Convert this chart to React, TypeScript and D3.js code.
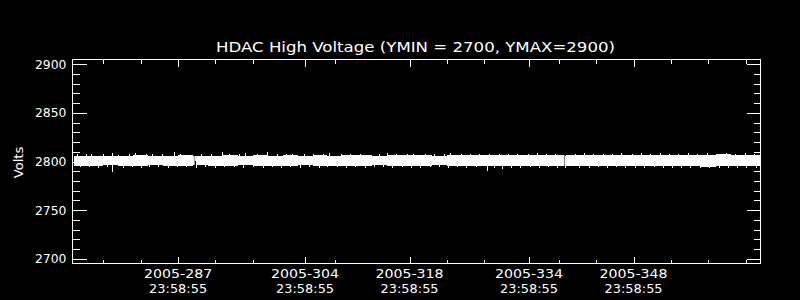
import React from "react";
import * as d3 from "d3";

// ---- data (x = days since 2005-01-01 00:00, y = volts) ----
const title = "HDAC High Voltage (YMIN = 2700, YMAX=2900)";
const yLabel = "Volts";
const xStart = 272.85;
const xEnd = 365.0;
const yMinView = 2695.3;
const yMaxView = 2904.8;

const yMajorTicks = [2700, 2750, 2800, 2850, 2900];
const yMinorTicks = [2710, 2720, 2730, 2740, 2760, 2770, 2780, 2790, 2810, 2820, 2830, 2840, 2860, 2870, 2880, 2890];

const xMajorDoy = [287, 304, 318, 334, 348];
const xMajorLabels = ["2005-287", "2005-304", "2005-318", "2005-334", "2005-348"];
const xMajorTime = "23:58:55";
const xMinorTicks = [277, 282, 292, 297, 308, 323, 328, 338, 343, 353, 358, 363];

const coreDays = [273, 275, 277, 279, 281, 283, 285, 287, 289, 291, 293, 295, 297, 299, 301, 303, 305, 307, 309, 311, 313, 315, 317, 319, 321, 323, 325, 327, 329, 331, 333, 335, 337, 339, 341, 343, 345, 347, 349, 351, 353, 355, 357, 359, 361, 363, 365];
const coreHigh = [2805.8, 2806.2, 2805.6, 2806.0, 2806.3, 2805.7, 2806.0, 2806.5, 2805.9, 2806.2, 2806.6, 2806.0, 2806.3, 2806.1, 2806.5, 2806.2, 2806.4, 2806.0, 2806.6, 2806.3, 2806.1, 2806.5, 2806.3, 2806.7, 2806.2, 2806.6, 2806.4, 2806.8, 2806.3, 2806.5, 2806.7, 2806.4, 2806.9, 2806.5, 2807.0, 2806.7, 2807.1, 2806.6, 2807.0, 2807.2, 2806.8, 2807.1, 2806.9, 2807.3, 2807.0, 2807.2, 2807.1];
const coreLow = [2795.9, 2795.5, 2796.1, 2795.7, 2795.3, 2796.0, 2795.6, 2795.8, 2796.2, 2795.5, 2795.7, 2796.0, 2795.4, 2795.8, 2795.6, 2796.1, 2795.5, 2795.9, 2795.3, 2795.7, 2796.0, 2795.6, 2795.4, 2795.8, 2796.1, 2795.5, 2795.7, 2795.3, 2795.9, 2795.6, 2795.4, 2795.8, 2795.5, 2795.2, 2795.6, 2795.3, 2795.1, 2795.5, 2795.2, 2795.0, 2795.4, 2795.1, 2794.9, 2795.3, 2795.0, 2795.2, 2795.1];

const gapDays = [289.3, 338.85];

const upHairDays = [273.4, 274.6, 275.3, 276.9, 278.1, 279.0, 280.4, 281.2, 282.7, 283.5, 284.8, 286.5, 287.3, 288.6, 289.25, 290.1, 291.4, 292.9, 293.8, 295.2, 296.0, 297.6, 298.95, 300.2, 301.5, 302.3, 303.9, 305.1, 306.4, 307.2, 308.8, 310.0, 311.3, 312.5, 313.9, 315.0, 316.2, 317.7, 318.5, 320.0, 321.3, 322.6, 323.4, 324.9, 326.1, 327.3, 328.7, 330.0, 331.2, 332.4, 333.8, 335.0, 336.3, 337.5, 338.85, 340.1, 341.4, 342.6, 343.9, 345.1, 346.3, 347.8, 349.0, 350.2, 351.6, 352.8, 354.0, 355.3, 356.5, 357.9, 359.1, 360.4, 361.6, 362.9, 364.1];
const upHairTop = [2807.9, 2807.3, 2808.2, 2807.6, 2808.5, 2807.1, 2807.8, 2808.3, 2807.5, 2808.0, 2807.4, 2809.8, 2807.7, 2807.2, 2806.2, 2808.1, 2807.6, 2809.6, 2807.9, 2807.3, 2808.4, 2807.5, 2809.6, 2807.8, 2807.4, 2808.2, 2807.6, 2808.0, 2807.3, 2808.5, 2807.7, 2807.5, 2808.1, 2807.2, 2807.9, 2808.3, 2807.6, 2807.8, 2808.2, 2807.4, 2808.0, 2807.6, 2808.4, 2807.7, 2807.3, 2808.1, 2807.8, 2807.5, 2808.2, 2807.9, 2807.6, 2808.3, 2807.7, 2808.0, 2806.0, 2808.1, 2808.5, 2807.8, 2808.2, 2807.9, 2808.4, 2808.1, 2808.3, 2807.8, 2808.5, 2808.0, 2808.2, 2808.6, 2807.9, 2808.3, 2808.1, 2808.5, 2808.0, 2808.3, 2808.2];

const downHairDays = [273.8, 275.0, 276.2, 277.5, 278.2, 279.6, 280.8, 282.0, 283.1, 284.3, 285.6, 286.9, 288.0, 289.35, 290.6, 291.9, 293.2, 294.5, 295.7, 297.0, 298.3, 299.6, 300.8, 302.0, 303.3, 304.5, 305.8, 307.0, 308.3, 309.5, 310.7, 312.0, 313.2, 314.5, 315.7, 317.0, 318.2, 319.4, 320.7, 321.9, 323.2, 324.4, 325.6, 326.9, 328.4, 329.3, 330.4, 331.6, 332.8, 334.1, 335.3, 336.6, 337.8, 338.85, 340.7, 342.0, 343.2, 344.5, 345.7, 346.9, 348.2, 349.4, 350.7, 351.9, 353.2, 354.4, 355.6, 356.9, 358.1, 359.4, 360.6, 361.9, 363.1, 364.4];
const downHairBottom = [2793.9, 2794.4, 2793.6, 2794.1, 2789.0, 2793.8, 2794.3, 2793.5, 2794.0, 2794.5, 2793.7, 2794.2, 2793.9, 2793.0, 2794.1, 2793.6, 2794.3, 2793.9, 2793.5, 2794.2, 2793.8, 2794.4, 2793.7, 2794.0, 2793.6, 2794.2, 2793.8, 2794.3, 2793.9, 2793.5, 2794.1, 2793.7, 2794.3, 2793.9, 2793.6, 2794.2, 2793.8, 2793.5, 2794.1, 2793.9, 2793.6, 2794.2, 2793.8, 2794.0, 2790.5, 2793.0, 2792.8, 2793.1, 2793.5, 2793.9, 2793.6, 2794.1, 2793.7, 2793.0, 2793.8, 2793.5, 2794.0, 2793.6, 2793.9, 2793.4, 2793.8, 2793.5, 2793.9, 2793.3, 2793.7, 2793.5, 2793.8, 2793.4, 2793.7, 2793.3, 2793.6, 2793.4, 2793.7, 2793.5];

const bandCenter = 2801;

// ---- layout ----
const W = 800;
const H = 300;
const L = 72.5;
const R = 760.5;
const T = 59.5;
const B = 263.5;
const FONT = "'DejaVu Sans', sans-serif";
const FW = 400;

export default function App() {
  const x = d3.scaleLinear().domain([xStart, xEnd]).range([L, R]);
  const y = d3.scaleLinear().domain([yMinView, yMaxView]).range([B, T]);
  const px = (v: number) => Math.round(x(v)) + 0.5;
  const py = (v: number) => Math.round(y(v)) + 0.5;

  const core = coreDays.map((d, i) => ({ d, lo: coreLow[i], hi: coreHigh[i] }));
  const area = d3
    .area<{ d: number; lo: number; hi: number }>()
    .x((p) => x(p.d))
    .y0((p) => y(p.lo))
    .y1((p) => y(p.hi))
    .curve(d3.curveStepAfter);

  // clip segments between data gaps
  const gapHalf = 0.1;
  const edges = [xStart, ...gapDays.flatMap((g) => [g - gapHalf, g + gapHalf]), xEnd];
  const segs: [number, number][] = [];
  for (let i = 0; i < edges.length; i += 2) segs.push([edges[i], edges[i + 1]]);

  const timeFrac = (23 * 3600 + 58 * 60 + 55) / 86400;
  const majorX = xMajorDoy.map((d) => d - 1 + timeFrac);

  const stroke = "#ffffff";

  return (
    <svg
      width={W}
      height={H}
      style={{ position: "absolute", left: 0, top: 0, background: "#000" }}
      shapeRendering="crispEdges"
    >
      <rect x={0} y={0} width={W} height={H} fill="#000" />
      <defs>
        <clipPath id="segclip">
          {segs.map(([a, b], i) => (
            <rect key={i} x={x(a)} y={T} width={x(b) - x(a)} height={B - T} />
          ))}
        </clipPath>
      </defs>

      {/* data band */}
      <path d={area(core) ?? ""} fill={stroke} clipPath="url(#segclip)" />
      {upHairDays.map((d, i) => (
        <line key={"u" + i} x1={px(d)} x2={px(d)} y1={y(bandCenter)} y2={y(upHairTop[i])} stroke={stroke} strokeWidth={1} />
      ))}
      {downHairDays.map((d, i) => (
        <line key={"d" + i} x1={px(d)} x2={px(d)} y1={y(bandCenter)} y2={y(downHairBottom[i])} stroke={stroke} strokeWidth={1} />
      ))}

      {/* frame */}
      <rect x={L} y={T} width={R - L} height={B - T} fill="none" stroke={stroke} strokeWidth={1} />

      {/* y ticks */}
      {yMajorTicks.map((v) => (
        <g key={"ym" + v}>
          <line x1={L} x2={L + 14} y1={py(v)} y2={py(v)} stroke={stroke} />
          <line x1={R} x2={R - 14} y1={py(v)} y2={py(v)} stroke={stroke} />
          <text
            x={66.5}
            y={y(v) + 4.5}
            fill={stroke}
            fontFamily={FONT}
            fontWeight={FW}
            fontSize={12.5}
            textAnchor="end"
            textLength={31.5}
            lengthAdjust="spacingAndGlyphs"
          >
            {v}
          </text>
        </g>
      ))}
      {yMinorTicks.map((v) => (
        <g key={"yn" + v}>
          <line x1={L} x2={L + 7} y1={py(v)} y2={py(v)} stroke={stroke} />
          <line x1={R} x2={R - 7} y1={py(v)} y2={py(v)} stroke={stroke} />
        </g>
      ))}

      {/* x ticks */}
      {majorX.map((v, i) => (
        <g key={"xm" + i}>
          <line x1={px(v)} x2={px(v)} y1={B} y2={B - 7} stroke={stroke} />
          <line x1={px(v)} x2={px(v)} y1={T} y2={T + 7} stroke={stroke} />
          <text
            x={x(v)}
            y={277.5}
            fill={stroke}
            fontFamily={FONT}
            fontWeight={FW}
            fontSize={12.5}
            textAnchor="middle"
            textLength={68}
            lengthAdjust="spacingAndGlyphs"
          >
            {xMajorLabels[i]}
          </text>
          <text
            x={x(v)}
            y={292.5}
            fill={stroke}
            fontFamily={FONT}
            fontWeight={FW}
            fontSize={12.5}
            textAnchor="middle"
            textLength={58}
            lengthAdjust="spacingAndGlyphs"
          >
            {xMajorTime}
          </text>
        </g>
      ))}
      {xMinorTicks.map((v) => (
        <g key={"xn" + v}>
          <line x1={px(v)} x2={px(v)} y1={B} y2={B - 4} stroke={stroke} />
          <line x1={px(v)} x2={px(v)} y1={T} y2={T + 4} stroke={stroke} />
        </g>
      ))}

      {/* title */}
      <text
        x={415.5}
        y={52}
        fill={stroke}
        fontFamily={FONT}
        fontWeight={FW}
        fontSize={14}
        textAnchor="middle"
        textLength={399}
        lengthAdjust="spacingAndGlyphs"
      >
        {title}
      </text>

      {/* y label */}
      <text
        transform="translate(23,162.5) rotate(-90)"
        fill={stroke}
        fontFamily={FONT}
        fontWeight={FW}
        fontSize={12}
        textAnchor="middle"
        textLength={31.5}
        lengthAdjust="spacingAndGlyphs"
      >
        {yLabel}
      </text>
    </svg>
  );
}
